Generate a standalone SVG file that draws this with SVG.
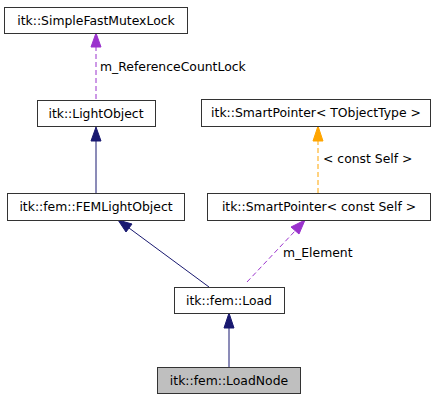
<svg xmlns="http://www.w3.org/2000/svg" width="441" height="400" viewBox="0 0 441 400">
<style>
.box{fill:#fff;stroke:#333;stroke-width:1}
.cur{fill:#bfbfbf;stroke:#333;stroke-width:1}
text{font-family:"DejaVu Sans",sans-serif;font-size:12.4px;fill:#000}
.c{text-anchor:middle}
.inh{stroke:#191970;stroke-width:1;fill:none}
.use{stroke:#9a32cd;stroke-width:1;fill:none;stroke-dasharray:5,3}
.tpl{stroke:#ffa500;stroke-width:1;fill:none;stroke-dasharray:5,3}
</style>
<rect width="441" height="400" fill="#fff"/>
<g id="edges">
<path class="use" d="M96,99 L96,47"/>
<polygon points="96,33 91,47 101,47" fill="#9a32cd" stroke="#9a32cd"/>
<text x="100" y="71">m_ReferenceCountLock</text>
<path class="inh" d="M96,193 L96,141"/>
<polygon points="96,127 91,141 101,141" fill="#191970" stroke="#191970"/>
<path class="tpl" d="M318,193 L318,141"/>
<polygon points="318,126 313,141 323,141" fill="#ffa500" stroke="#ffa500"/>
<text x="323" y="163">&lt; const Self &gt;</text>
<path class="inh" d="M209,287 L129,228"/>
<polygon points="118,220 126,232 132,224" fill="#191970" stroke="#191970"/>
<path class="use" d="M247,282 L295,231"/>
<polygon points="305,220 291,227 299,234" fill="#9a32cd" stroke="#9a32cd"/>
<text x="283" y="257">m_Element</text>
<path class="inh" d="M229,367 L229,328"/>
<polygon points="229,313 224,328 234,328" fill="#191970" stroke="#191970"/>
</g>
<g id="SimpleFastMutexLock"><rect class="box" x="4.5" y="7.5" width="183" height="26"/><text class="c" x="96" y="25">itk::SimpleFastMutexLock</text></g>
<g id="LightObject"><rect class="box" x="37.5" y="100.5" width="118" height="26"/><text class="c" x="96" y="118">itk::LightObject</text></g>
<g id="SmartPointerT"><rect class="box" x="201.5" y="99.5" width="229" height="27"/><text class="c" x="316" y="117">itk::SmartPointer&lt; TObjectType &gt;</text></g>
<g id="FEMLightObject"><rect class="box" x="7.5" y="193.5" width="177" height="27"/><text class="c" x="96" y="211">itk::fem::FEMLightObject</text></g>
<g id="SmartPointerConst"><rect class="box" x="207.5" y="193.5" width="223" height="27"/><text class="c" x="319" y="211">itk::SmartPointer&lt; const Self &gt;</text></g>
<g id="Load"><rect class="box" x="174.5" y="287.5" width="110" height="26"/><text class="c" x="229" y="305">itk::fem::Load</text></g>
<g id="LoadNode"><rect class="cur" x="157.5" y="367.5" width="143" height="26"/><text class="c" x="229" y="385">itk::fem::LoadNode</text></g>
</svg>
